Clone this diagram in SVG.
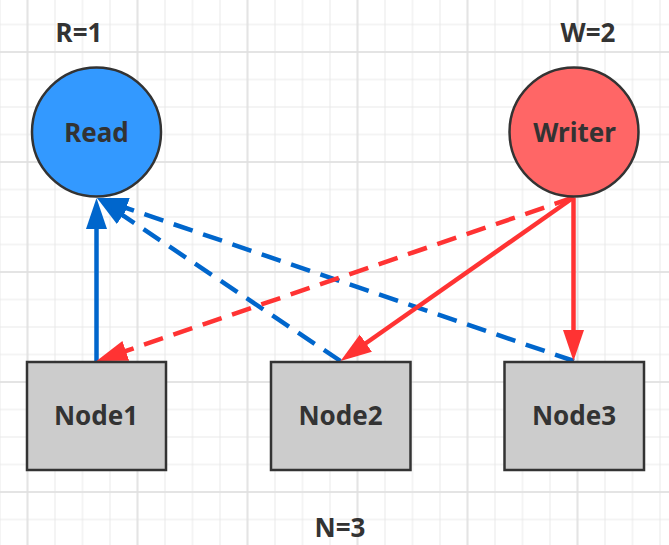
<svg xmlns="http://www.w3.org/2000/svg" width="669" height="545" viewBox="0 0 669 545">
<style>
.t{font-family:"Noto Sans","Open Sans","DejaVu Sans",sans-serif;font-weight:bold;font-size:26px;fill:#333;text-anchor:middle}
.circ{stroke:#333;stroke-width:2.5}
.box{fill:#cccccc;stroke:#333;stroke-width:2.5}
.blue{stroke:#0066cc;stroke-width:4.5;fill:none}
.red{stroke:#ff3333;stroke-width:4.5;fill:none}
.dash{stroke-dasharray:20 11}
</style>
<defs>
<pattern id="minor" patternUnits="userSpaceOnUse" x="13.75" y="10.75" width="27.5" height="27.5">
<path d="M13.75,0V27.5M0,13.75H27.5" stroke="#e9e9e9" stroke-width="1" fill="none"/>
</pattern>
<pattern id="major" patternUnits="userSpaceOnUse" x="-27.5" y="-3" width="110" height="110">
<path d="M55,0V110M0,55H110" stroke="#e0e0e0" stroke-width="1.5" fill="none"/>
</pattern>
<marker id="ab" markerUnits="userSpaceOnUse" markerWidth="32" markerHeight="22" refX="11" refY="10.5" orient="auto">
<path d="M0,0L31,10.5L0,21Z" fill="#0066cc"/>
</marker>
<marker id="ar" markerUnits="userSpaceOnUse" markerWidth="32" markerHeight="22" refX="11" refY="10.5" orient="auto">
<path d="M0,0L31,10.5L0,21Z" fill="#ff3333"/>
</marker>
</defs>
<rect width="669" height="545" fill="#fff"/>
<rect width="669" height="545" fill="url(#minor)"/>
<rect width="669" height="545" fill="url(#major)"/>
<g id="labels">
<text class="t" x="79" y="42">R=1</text>
<text class="t" x="588" y="42">W=2</text>
<text class="t" x="340" y="537">N=3</text>
</g>
<g id="connectors">
<path class="blue" d="M96.5,361L96.5,218" marker-end="url(#ab)"/>
<path class="blue dash" d="M340.5,361L113.6,209.2" marker-end="url(#ab)"/>
<path class="blue dash" d="M574,361L115.9,204.5" marker-end="url(#ab)"/>
<path class="red dash" d="M573.5,197.5L115.4,354.5" marker-end="url(#ar)"/>
<path class="red" d="M573.5,197.5L356.9,349.5" marker-end="url(#ar)"/>
<path class="red" d="M573.5,197.5L573.5,341" marker-end="url(#ar)"/>
</g>
<g id="read">
<circle class="circ" cx="96.5" cy="132" r="64.5" fill="#3399ff"/>
<text class="t" x="96.5" y="142">Read</text>
</g>
<g id="writer">
<circle class="circ" cx="574" cy="132" r="64.5" fill="#ff6666"/>
<text class="t" x="574.5" y="142">Writer</text>
</g>
<g id="node1">
<rect class="box" x="27" y="362" width="139" height="108"/>
<text class="t" x="96" y="425">Node1</text>
</g>
<g id="node2">
<rect class="box" x="271" y="362" width="139.5" height="108"/>
<text class="t" x="340.5" y="425">Node2</text>
</g>
<g id="node3">
<rect class="box" x="504.5" y="362" width="139.5" height="108"/>
<text class="t" x="574" y="425">Node3</text>
</g>
</svg>
